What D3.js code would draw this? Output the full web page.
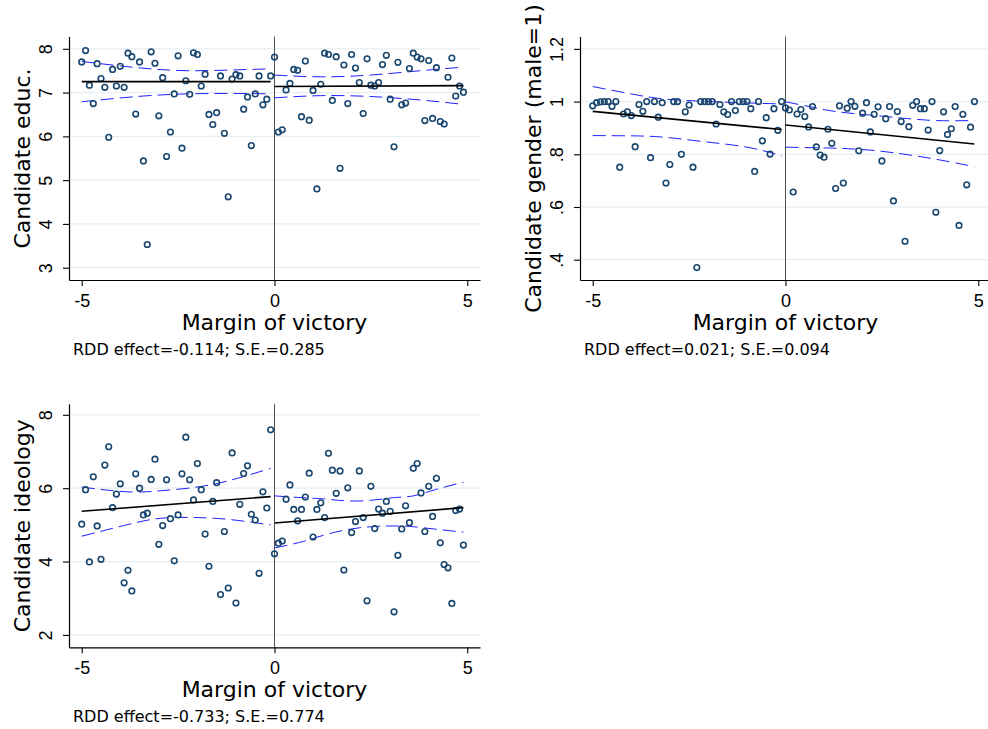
<!DOCTYPE html>
<html>
<head>
<meta charset="utf-8">
<script src="https://cdn.jsdelivr.net/npm/d3@7"></script>
<style>
  body { margin: 0; background: #fff; }
  svg { display: block; font-family: "DejaVu Sans", sans-serif; }
</style>
</head>
<body>
<svg id="chart" width="988" height="729"></svg>
<script>
// bin centres (margin of victory)
const binX = [-5.0,-4.9,-4.8,-4.7,-4.6,-4.5,-4.4,-4.3,-4.2,-4.1,-4.0,-3.9,-3.8,-3.7,-3.6,-3.5,-3.4,-3.3,-3.2,-3.1,
  -3.0,-2.9,-2.8,-2.7,-2.6,-2.5,-2.4,-2.3,-2.2,-2.1,-2.0,-1.9,-1.8,-1.7,-1.6,-1.5,-1.4,-1.3,-1.2,-1.1,
  -1.0,-0.9,-0.8,-0.7,-0.6,-0.5,-0.4,-0.3,-0.2,-0.1,
  0.0,0.1,0.2,0.3,0.4,0.5,0.6,0.7,0.8,0.9,1.0,1.1,1.2,1.3,1.4,1.5,1.6,1.7,1.8,1.9,
  2.0,2.1,2.2,2.3,2.4,2.5,2.6,2.7,2.8,2.9,3.0,3.1,3.2,3.3,3.4,3.5,3.6,3.7,3.8,3.9,
  4.0,4.1,4.2,4.3,4.4,4.5,4.6,4.7,4.8,4.9]
const xTicks = [-5, 0, 5]

// candidate education
const educY = [7.70,7.96,7.17,6.75,7.66,7.32,7.12,5.98,7.53,7.15,7.60,7.12,7.90,7.82,6.51,7.70,5.44,3.53,7.93,7.67,
  6.47,7.34,5.54,6.10,6.97,7.84,5.73,7.27,6.96,7.91,7.87,7.15,7.42,6.50,6.27,6.54,7.38,6.07,4.62,7.31,
  7.41,7.38,6.62,6.90,5.79,6.97,7.38,6.72,6.85,7.38,
  7.81,6.10,6.15,7.06,7.21,7.53,7.51,6.45,7.72,6.37,7.05,4.80,7.19,7.90,7.87,6.82,7.82,5.27,7.63,6.75,
  7.87,7.56,7.23,6.52,7.77,7.17,7.15,7.23,7.64,7.85,6.85,5.76,7.69,6.72,6.76,7.55,7.90,7.81,7.77,6.36,
  7.73,6.41,7.57,6.34,6.28,7.35,7.79,6.92,7.15,7.01]
const educFitX = [[-5, -0.1], [0, 4.9]]
const educFitY = [[7.25, 7.25], [7.14, 7.16]]
const educCiX = [[-5, -3.57, -2.27, -0.97, -0.1], [0, 1.2, 2.49, 3.79, 4.9]]
const educCiHi = [[7.71, 7.57, 7.50, 7.52, 7.54], [7.40, 7.36, 7.40, 7.50, 7.58]]
const educCiLo = [[6.79, 6.91, 6.97, 6.98, 6.97], [6.88, 6.93, 6.91, 6.83, 6.73]]
const educTicks = [3, 4, 5, 6, 7, 8]

// candidate gender
const genderY = [0.984,0.996,0.999,1.0,1.0,0.982,1.0,0.751,0.953,0.961,0.947,0.829,0.989,0.963,1.0,0.787,1.0,0.941,0.996,0.691,
  0.761,1.0,1.0,0.8,0.961,0.987,0.751,0.370,1.0,1.0,1.0,1.0,0.915,0.989,0.961,0.951,1.0,0.966,1.0,1.0,
  1.0,0.973,0.735,1.0,0.851,0.939,0.801,0.973,0.891,1.0,
  0.976,0.968,0.657,0.953,0.970,0.943,0.904,0.981,0.828,0.797,0.789,0.895,0.842,0.670,0.984,0.691,0.975,1.0,0.982,0.813,
  0.956,0.996,0.885,0.952,0.980,0.775,0.935,0.981,0.623,0.962,0.924,0.470,0.905,0.986,1.0,0.973,0.973,0.892,1.0,0.580,
  0.814,0.961,0.875,0.897,0.981,0.530,0.952,0.684,0.903,1.0]
const genderFitX = [[-5, -0.1], [0, 4.9]]
const genderFitY = [[0.963, 0.894], [0.911, 0.839]]
const genderCiX = [[-5, -4, -3.16, -2.12, -1, -0.1], [0, 0.72, 1.32, 2.18, 3.05, 3.91, 4.9]]
const genderCiHi = [[1.057, 1.029, 1.010, 1.001, 0.995, 0.991], [0.999, 0.978, 0.962, 0.949, 0.937, 0.928, 0.928]]
const genderCiLo = [[0.871, 0.870, 0.865, 0.848, 0.827, 0.794], [0.827, 0.825, 0.823, 0.816, 0.801, 0.781, 0.753]]
const genderTicks = [0.4, 0.6, 0.8, 1, 1.2]
const genderLabels = [".4", ".6", ".8", "1", "1.2"]

// candidate ideology
const ideoY = [5.02,5.96,3.99,6.31,4.97,4.06,6.63,7.13,5.47,5.84,6.12,3.42,3.76,3.20,6.39,6.00,5.27,5.32,6.24,6.79,
  4.47,4.98,6.23,5.17,4.02,5.27,6.39,7.39,6.23,5.68,6.67,5.96,4.75,3.87,5.64,6.15,3.10,4.82,3.28,6.96,
  2.87,5.56,6.40,6.61,5.29,5.13,3.68,5.90,5.46,7.59,
  4.21,4.50,4.56,5.70,6.09,5.42,5.11,5.42,5.76,6.41,4.67,5.42,5.60,5.20,6.95,6.49,5.86,6.47,3.77,6.01,
  4.79,5.09,6.47,5.20,2.93,6.05,4.90,5.43,5.32,5.64,5.37,2.63,4.17,4.89,5.52,5.06,6.54,6.67,5.87,4.82,
  6.05,5.23,6.27,4.51,3.92,3.83,2.86,5.39,5.43,4.45]
const ideoFitX = [[-5, -0.1], [0, 4.9]]
const ideoFitY = [[5.37, 5.77], [5.05, 5.47]]
const ideoCiX = [[-5, -3.8, -2.95, -2.08, -1.2, -0.1], [0, 0.75, 1.35, 2.2, 3.08, 3.6, 4.2, 4.9]]
const ideoCiHi = [[6.03, 5.90, 5.93, 6.02, 6.20, 6.54], [5.79, 5.74, 5.70, 5.65, 5.74, 5.79, 5.97, 6.16]]
const ideoCiLo = [[4.69, 5.01, 5.18, 5.20, 5.15, 5.00], [4.37, 4.55, 4.74, 4.92, 4.97, 4.95, 4.88, 4.80]]
const ideoTicks = [2, 4, 6, 8]

const svg = d3.select("#chart")
svg.append("rect").attr("width", 988).attr("height", 729).attr("fill", "#fff")

function drawPanel(p) {
  let
    x = d3.scaleLinear().domain([-5.33, 5.33]).range([p.left, p.left + 411]),
    y = d3.scaleLinear().domain(p.yDomain).range([p.bottom, p.bottom - 243.5]),
    g = svg.append("g")

  // gridlines
  g.selectAll(".grid")
    .data(p.ticks)
    .join("line")
    .attr("x1", x.range()[0]).attr("x2", x.range()[1])
    .attr("y1", d => y(d)).attr("y2", d => y(d))
    .attr("stroke", "#e7eef2")
    .attr("stroke-width", 1.3)

  // cutoff line
  g.append("line")
    .attr("x1", x(0)).attr("x2", x(0))
    .attr("y1", y.range()[1]).attr("y2", y.range()[0])
    .attr("stroke", "#3c3c3c")
    .attr("stroke-width", 0.9)

  // confidence bands
  let band = d3.line().curve(d3.curveNatural).x(d => x(d[0])).y(d => y(d[1]))
  for (let s = 0; s < 2; s++) {
    [p.ciHi[s], p.ciLo[s]].forEach(arr => {
      g.append("path")
        .attr("d", band(p.ciX[s].map((v, i) => [v, arr[i]])))
        .attr("fill", "none")
        .attr("stroke", "#1f1fff")
        .attr("stroke-width", 1)
        .attr("stroke-dasharray", "13,6")
    })
  }

  // points
  g.selectAll(".pt")
    .data(binX.map((v, i) => [v, p.values[i]]))
    .join("circle")
    .attr("cx", d => x(d[0]))
    .attr("cy", d => y(d[1]))
    .attr("r", 2.8)
    .attr("fill", "none")
    .attr("stroke", "#1a476f")
    .attr("stroke-width", 1.6)

  // fitted lines
  let fit = d3.line().x(d => x(d[0])).y(d => y(d[1]))
  for (let s = 0; s < 2; s++) {
    g.append("path")
      .attr("d", fit(p.fitX[s].map((v, i) => [v, p.fitY[s][i]])))
      .attr("fill", "none")
      .attr("stroke", "#000")
      .attr("stroke-width", 1.6)
  }

  // axes
  let xAxis = g.append("g")
    .attr("transform", `translate(0,${p.bottom})`)
    .call(d3.axisBottom(x).tickValues(xTicks).tickSize(6).tickSizeOuter(0).tickFormat(d3.format("d")))
  xAxis.selectAll("text")
    .attr("y", 27).attr("dy", 0)
    .attr("font-size", 18).attr("fill", "#000")
    .text(d => d < 0 ? "-" + Math.abs(d) : d)

  let yAxis = g.append("g")
    .attr("transform", `translate(${p.left},0)`)
    .call(d3.axisLeft(y).tickValues(p.ticks).tickSize(6).tickSizeOuter(0)
      .tickFormat((d, i) => p.labels ? p.labels[i] : d))
  yAxis.selectAll("text")
    .attr("transform", "rotate(-90)")
    .attr("x", 0).attr("y", -17).attr("dy", 0)
    .attr("text-anchor", "middle")
    .attr("font-size", 18).attr("fill", "#000")

  g.selectAll(".domain").attr("stroke", "#000").attr("stroke-width", 1.2)
  g.selectAll(".tick line").attr("stroke", "#000").attr("stroke-width", 1.1)

  // titles
  g.append("text")
    .attr("x", x(0)).attr("y", p.bottom + 50)
    .attr("text-anchor", "middle")
    .attr("font-size", 22)
    .text("Margin of victory")

  g.append("text")
    .attr("transform", `translate(${p.left - 39},${p.bottom - 121.5}) rotate(-90)`)
    .attr("text-anchor", "middle")
    .attr("font-size", 22)
    .text(p.yTitle)

  g.append("text")
    .attr("x", p.left + 4).attr("y", p.bottom + 75)
    .attr("font-size", 16)
    .text(p.note)
}

drawPanel({
  left: 69, bottom: 280, yDomain: [2.719, 8.281], ticks: educTicks,
  values: educY, fitX: educFitX, fitY: educFitY, ciX: educCiX, ciHi: educCiHi, ciLo: educCiLo,
  yTitle: "Candidate educ.", note: "RDD effect=-0.114; S.E.=0.285"
})

drawPanel({
  left: 580, bottom: 280, yDomain: [0.323, 1.247], ticks: genderTicks, labels: genderLabels,
  values: genderY, fitX: genderFitX, fitY: genderFitY, ciX: genderCiX, ciHi: genderCiHi, ciLo: genderCiLo,
  yTitle: "Candidate gender (male=1)", note: "RDD effect=0.021; S.E.=0.094"
})

drawPanel({
  left: 69, bottom: 647.3, yDomain: [1.663, 8.30], ticks: ideoTicks,
  values: ideoY, fitX: ideoFitX, fitY: ideoFitY, ciX: ideoCiX, ciHi: ideoCiHi, ciLo: ideoCiLo,
  yTitle: "Candidate ideology", note: "RDD effect=-0.733; S.E.=0.774"
})
</script>
</body>
</html>
